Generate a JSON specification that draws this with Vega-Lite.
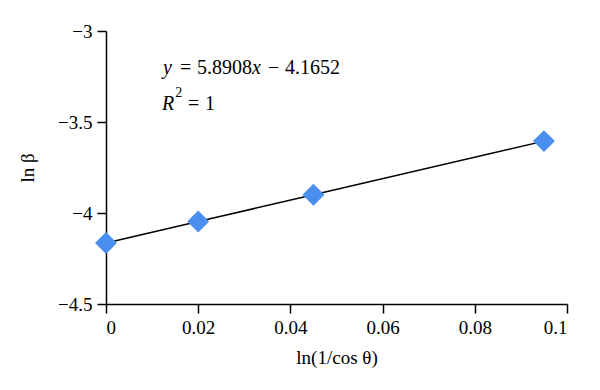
{
  "$schema": "https://vega.github.io/schema/vega-lite/v6.json",
  "width": 461,
  "height": 273,
  "autosize": {"type": "none"},
  "padding": {"left": 106, "top": 31, "right": 33, "bottom": 86},
  "background": "white",
  "config": {
    "view": {"stroke": null},
    "font": "Liberation Serif",
    "axis": {
      "grid": false,
      "domainColor": "black",
      "domainWidth": 1.5,
      "tickColor": "black",
      "tickWidth": 1.5,
      "tickSize": 9,
      "labelFont": "Liberation Serif",
      "labelFontSize": 19,
      "labelColor": "black",
      "titleFont": "Liberation Serif",
      "titleFontSize": 19,
      "titleFontWeight": "normal",
      "titleColor": "black",
      "labelPadding": 5
    }
  },
  "data": {
    "values": [
      {"x": 0.0, "y": -4.165},
      {"x": 0.02, "y": -4.047},
      {"x": 0.045, "y": -3.9},
      {"x": 0.095, "y": -3.605}
    ]
  },
  "layer": [
    {
      "mark": {"type": "line", "color": "black", "strokeWidth": 1.5},
      "encoding": {
        "x": {
          "field": "x", "type": "quantitative",
          "scale": {"domain": [0, 0.1], "nice": false, "zero": false},
          "axis": {"values": [0, 0.02, 0.04, 0.06, 0.08, 0.1], "format": "~g", "title": "ln(1/cos θ)", "titlePadding": 11}
        },
        "y": {
          "field": "y", "type": "quantitative",
          "scale": {"domain": [-4.5, -3], "nice": false, "zero": false},
          "axis": {"values": [-4.5, -4, -3.5, -3], "format": "~g", "title": "ln β", "titlePadding": 20}
        }
      }
    },
    {
      "mark": {"type": "point", "shape": "diamond", "filled": true, "size": 480, "color": "#4a8ff0", "opacity": 1},
      "encoding": {
        "x": {"field": "x", "type": "quantitative"},
        "y": {"field": "y", "type": "quantitative"}
      }
    },
    {
      "data": {
        "values": [
          {"x": 0.01236, "y": -3.2363, "t": "y"},
          {"x": 0.03167, "y": -3.2363, "t": "x"},
          {"x": 0.01215, "y": -3.434, "t": "R"}
        ]
      },
      "mark": {"type": "text", "align": "left", "baseline": "alphabetic", "fontSize": 20, "fontStyle": "italic", "font": "Liberation Serif", "color": "black"},
      "encoding": {
        "x": {"field": "x", "type": "quantitative"},
        "y": {"field": "y", "type": "quantitative"},
        "text": {"field": "t"}
      }
    },
    {
      "data": {
        "values": [
          {"x": 0.01605, "y": -3.2363, "t": "="},
          {"x": 0.01974, "y": -3.2363, "t": "5.8908"},
          {"x": 0.03514, "y": -3.2363, "t": "−"},
          {"x": 0.03883, "y": -3.2363, "t": "4.1652"},
          {"x": 0.01779, "y": -3.434, "t": "="},
          {"x": 0.02148, "y": -3.434, "t": "1"}
        ]
      },
      "mark": {"type": "text", "align": "left", "baseline": "alphabetic", "fontSize": 20, "font": "Liberation Serif", "color": "black"},
      "encoding": {
        "x": {"field": "x", "type": "quantitative"},
        "y": {"field": "y", "type": "quantitative"},
        "text": {"field": "t"}
      }
    },
    {
      "data": {
        "values": [
          {"x": 0.0150, "y": -3.3626, "t": "2"}
        ]
      },
      "mark": {"type": "text", "align": "left", "baseline": "alphabetic", "fontSize": 14, "font": "Liberation Serif", "color": "black"},
      "encoding": {
        "x": {"field": "x", "type": "quantitative"},
        "y": {"field": "y", "type": "quantitative"},
        "text": {"field": "t"}
      }
    }
  ]
}
